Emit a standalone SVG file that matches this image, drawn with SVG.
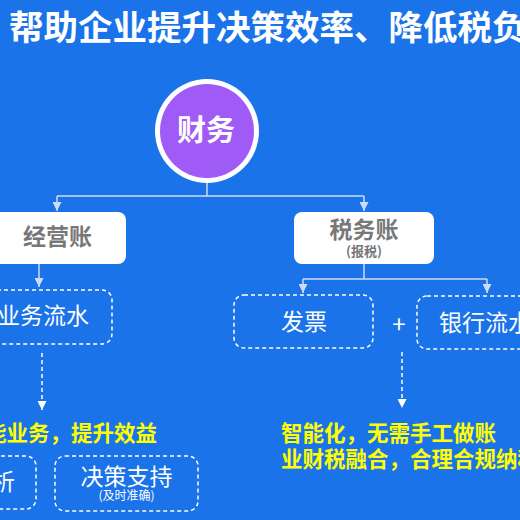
<svg xmlns="http://www.w3.org/2000/svg" width="520" height="520" viewBox="0 0 520 520">
<defs>
<style>
.cjk{font-family:"Noto Sans CJK SC","Noto Sans",sans-serif}
.title{font-size:34.5px;font-weight:700;fill:#ffffff}
.solid{fill:#ffffff}
.dash{fill:none;stroke:#ffffff;stroke-width:1.5;stroke-dasharray:4 3}
.gray{fill:#777777;font-weight:700}
.wt{fill:#ffffff;font-size:23px}
.yl{fill:#ffff00;font-size:21.5px;font-weight:700}
.conn{fill:none;stroke:#cddcf4;stroke-width:1.5}
.dconn{fill:none;stroke:#ffffff;stroke-width:1.5;stroke-dasharray:4 3}
</style>
<marker id="ah" markerUnits="userSpaceOnUse" markerWidth="9" markerHeight="9" refX="9" refY="4.5" orient="auto">
<path d="M0,0 L9,4.5 L0,9 z" fill="#cddcf4"/>
</marker>
<marker id="ahw" markerUnits="userSpaceOnUse" markerWidth="9" markerHeight="9" refX="9" refY="4.5" orient="auto">
<path d="M0,0 L9,4.5 L0,9 z" fill="#ffffff"/>
</marker>
</defs>
<rect x="0" y="0" width="520" height="520" fill="#1a73e8"/>
<text class="cjk title" x="9" y="40">帮助企业提升决策效率、降低税负</text>

<g id="connectors">
<path class="conn" d="M207,183 V196 M57,196 H364"/>
<path class="conn" d="M57,196 V211" marker-end="url(#ah)"/>
<path class="conn" d="M364,196 V211" marker-end="url(#ah)"/>
<path class="conn" d="M39,264 V287" marker-end="url(#ah)"/>
<path class="conn" d="M364,264 V279 M303,279 H487"/>
<path class="conn" d="M303,279 V293" marker-end="url(#ah)"/>
<path class="conn" d="M487,279 V293" marker-end="url(#ah)"/>
<path class="dconn" d="M42,353 V410" marker-end="url(#ahw)"/>
<path class="dconn" d="M402,352 V408" marker-end="url(#ahw)"/>
</g>

<g id="node-caiwu">
<circle cx="207" cy="131" r="52" fill="#ffffff"/>
<circle cx="207" cy="131" r="47" fill="#a05af5"/>
<text class="cjk" x="206" y="141" text-anchor="middle" font-size="29" font-weight="700" fill="#ffffff">财务</text>
</g>

<g id="node-jingyingzhang">
<rect x="-12" y="212" width="138" height="52" rx="8" class="solid"/>
<text class="cjk gray" x="57.5" y="245" text-anchor="middle" font-size="23">经营账</text>
</g>

<g id="node-shuiwuzhang">
<rect x="294" y="212" width="140" height="52" rx="8" class="solid"/>
<text class="cjk gray" x="364" y="237.5" text-anchor="middle" font-size="23">税务账</text>
<text class="cjk gray" x="364" y="256" text-anchor="middle" font-size="13">(报税)</text>
</g>

<g id="node-yewuliushui">
<rect x="-34" y="290" width="146" height="54" rx="10" class="dash"/>
<text class="cjk wt" x="89" y="324" text-anchor="end">业务流水</text>
</g>

<g id="node-fapiao">
<rect x="234" y="295" width="139" height="53" rx="10" class="dash"/>
<text class="cjk wt" x="304" y="330" text-anchor="middle">发票</text>
</g>

<g id="node-plus">
<text class="cjk" x="399" y="333" text-anchor="middle" font-size="24" fill="#ffffff">+</text>
</g>

<g id="node-yinhangliushui">
<rect x="417" y="296" width="140" height="53" rx="10" class="dash"/>
<text class="cjk wt" x="439" y="331">银行流水</text>
</g>

<g id="node-left-slogan">
<text class="cjk yl" x="157" y="440.5" text-anchor="end">能业务，提升效益</text>
</g>

<g id="node-right-slogan">
<text class="cjk yl" x="281" y="441">智能化，无需手工做账</text>
<text class="cjk yl" x="281" y="467">业财税融合，合理合规纳税</text>
</g>

<g id="node-fenxi">
<rect x="-107" y="456" width="143" height="53" rx="10" class="dash"/>
<text class="cjk wt" x="15" y="490" text-anchor="end">析</text>
</g>

<g id="node-juecezhichi">
<rect x="55" y="456" width="143" height="55" rx="10" class="dash"/>
<text class="cjk wt" x="126.5" y="484.5" text-anchor="middle" font-size="23.5">决策支持</text>
<text class="cjk" x="126.5" y="499.5" text-anchor="middle" font-size="12" fill="#ffffff">(及时准确)</text>
</g>
</svg>
